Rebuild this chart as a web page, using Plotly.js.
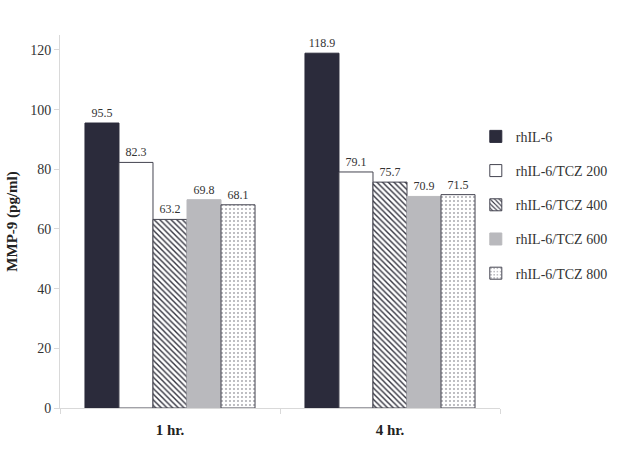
<!DOCTYPE html>
<html><head><meta charset="utf-8">
<script src="https://cdn.plot.ly/plotly-3.0.1.min.js"></script>
<style>body{margin:0;background:#fff}#chart{width:633px;height:451px}</style>
</head><body><div id="chart"></div>
<script>
const categories = ['1 hr.', '4 hr.'];
const seriesNames = ['rhIL-6', 'rhIL-6/TCZ 200', 'rhIL-6/TCZ 400', 'rhIL-6/TCZ 600', 'rhIL-6/TCZ 800'];
const rhIL6 = [95.5, 118.9];
const tcz200 = [82.3, 79.1];
const tcz400 = [63.2, 75.7];
const tcz600 = [69.8, 70.9];
const tcz800 = [68.1, 71.5];
const yTicks = [0, 20, 40, 60, 80, 100, 120];

const values = [rhIL6, tcz200, tcz400, tcz600, tcz800];
const fills = ['#2b2b3b', '#ffffff', '#ffffff', '#b9b9bd', '#ffffff'];
const lines = ['#2b2b3b', '#444450', '#444450', '#b9b9bd', '#444450'];
const patterns = [
  {shape: ''},
  {shape: ''},
  {shape: '\\', fgcolor: '#33333f', bgcolor: '#ffffff', size: 4, solidity: 0.35},
  {shape: ''},
  {shape: '.', fgcolor: '#44444f', bgcolor: '#ffffff', size: 4, solidity: 0.08}
];
const font = 'Liberation Serif, Times New Roman, serif';

const traces = seriesNames.map((name, i) => ({
  type: 'bar',
  name: name,
  x: categories,
  y: values[i],
  text: values[i].map(v => v.toFixed(1)),
  textposition: 'outside',
  cliponaxis: false,
  textfont: {family: font, size: 12, color: '#333'},
  legendgroup: 'g' + i,
  marker: {color: fills[i], line: {color: lines[i], width: 1}, pattern: patterns[i]}
}));

const layout = {
  width: 633, height: 451,
  margin: {l: 60, r: 133, t: 35, b: 43, autoexpand: false},
  paper_bgcolor: '#fff', plot_bgcolor: '#fff',
  font: {family: font, color: '#333', size: 13},
  barmode: 'group',
  bargap: 0.227, bargroupgap: 0,
  showlegend: true,
  legend: {x: 0.945, xanchor: 'left', y: 0.77, yanchor: 'top', traceorder: 'grouped',
           tracegroupgap: 13, font: {family: font, size: 14, color: '#333'}, itemwidth: 30},
  xaxis: {showline: true, linecolor: '#d9d9d9', ticks: 'outside', tickson: 'boundaries',
          tickcolor: '#d9d9d9', ticklen: 5, showgrid: false, ticklabelstandoff: 8,
          tickfont: {family: font, size: 15, color: '#222', weight: 'bold'}},
  yaxis: {range: [0, 125], tickvals: yTicks, showline: true, linecolor: '#d9d9d9',
          ticks: 'outside', tickcolor: '#d9d9d9', ticklen: 5, showgrid: false, zeroline: false,
          tickfont: {family: font, size: 14, color: '#333'},
          title: {text: '<b>MMP-9 (pg/ml)</b>', font: {family: font, size: 15, color: '#222'}, standoff: 8}}
};

Plotly.newPlot('chart', traces, layout, {displayModeBar: false, staticPlot: true});
</script></body></html>
